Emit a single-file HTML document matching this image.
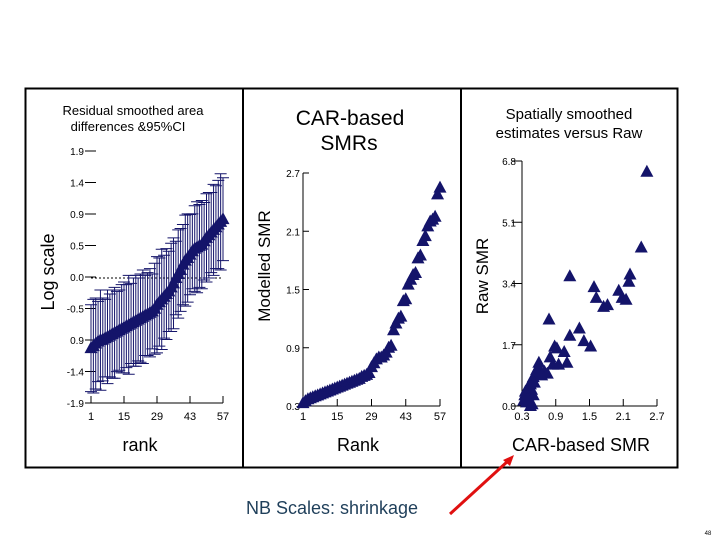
<!DOCTYPE html>
<html><head><meta charset="utf-8"><style>
html,body{margin:0;padding:0;background:#fff;width:720px;height:540px;overflow:hidden}
svg{display:block;font-family:"Liberation Sans",sans-serif}
</style></head><body>
<svg id="s" width="720" height="540" viewBox="0 0 720 540">
<rect x="25.5" y="88.5" width="652" height="379" fill="none" stroke="#000" stroke-width="2"/>
<line x1="243" y1="88" x2="243" y2="468" stroke="#000" stroke-width="2"/>
<line x1="461" y1="88" x2="461" y2="468" stroke="#000" stroke-width="2"/>
<g font-size="13" fill="#000" text-anchor="middle">
<text x="133" y="115">Residual smoothed area</text><text x="128" y="131">differences &amp;95%CI</text></g>
<g font-size="21" text-anchor="middle">
<text x="350" y="125">CAR-based</text><text x="349" y="150">SMRs</text></g>
<g font-size="15" text-anchor="middle">
<text x="569" y="119">Spatially smoothed</text><text x="569" y="138">estimates versus Raw</text></g>
<text transform="translate(54,272) rotate(-90)" font-size="18" text-anchor="middle">Log scale</text>
<text transform="translate(270,266) rotate(-90)" font-size="17" text-anchor="middle">Modelled SMR</text>
<text transform="translate(488,276) rotate(-90)" font-size="17" text-anchor="middle">Raw SMR</text>
<text x="140" y="451" font-size="18" text-anchor="middle">rank</text>
<text x="358" y="451" font-size="18" text-anchor="middle">Rank</text>
<text x="581" y="451" font-size="18" text-anchor="middle">CAR-based SMR</text>
<text x="332" y="514" font-size="18" fill="#1f3f5a" text-anchor="middle">NB Scales: shrinkage</text>
<line x1="450" y1="514" x2="508" y2="461" stroke="#e01010" stroke-width="3"/>
<polygon points="514,455 503,460 510,466" fill="#e01010"/>
<text x="708" y="535" font-size="6" text-anchor="middle">48</text>
<g id="g1"></g><g id="g2"></g><g id="g3"></g>
</svg>
<script>
// Panel 1 data
const p1Mid=[-1.05,-1.02,-0.98,-0.95,-0.93,-0.92,-0.9,-0.88,-0.86,-0.84,-0.82,-0.8,-0.78,-0.76,-0.74,-0.72,-0.7,-0.68,-0.66,-0.64,-0.62,-0.6,-0.58,-0.56,-0.54,-0.52,-0.5,-0.46,-0.4,-0.36,-0.32,-0.28,-0.24,-0.2,-0.14,-0.08,0.0,0.06,0.12,0.2,0.26,0.3,0.35,0.4,0.44,0.46,0.48,0.5,0.55,0.6,0.64,0.68,0.72,0.76,0.8,0.84,0.88];
const p1Half=[0.65,0.7,0.68,0.6,0.75,0.62,0.58,0.7,0.62,0.66,0.68,0.6,0.6,0.66,0.68,0.62,0.74,0.6,0.66,0.68,0.62,0.66,0.7,0.6,0.62,0.66,0.56,0.68,0.72,0.66,0.75,0.62,0.68,0.6,0.66,0.68,0.55,0.66,0.62,0.6,0.68,0.66,0.6,0.56,0.64,0.68,0.62,0.66,0.58,0.66,0.64,0.6,0.68,0.62,0.66,0.72,0.62];
const p1YTicks=["1.9","1.4","0.9","0.5","0.0","-0.5","0.9","-1.4","-1.9"];
const p1XTicks=[1,15,29,43,57];
// Panel 2 data
const p2Vals=[0.33,0.35,0.37,0.38,0.39,0.4,0.41,0.42,0.43,0.44,0.45,0.46,0.47,0.48,0.49,0.5,0.51,0.52,0.53,0.54,0.55,0.56,0.57,0.58,0.6,0.61,0.62,0.64,0.7,0.74,0.78,0.8,0.8,0.82,0.85,0.9,0.92,1.08,1.15,1.2,1.22,1.38,1.4,1.55,1.6,1.65,1.67,1.82,1.85,2.0,2.05,2.15,2.2,2.22,2.25,2.48,2.55];
const p2YTicks=[0.3,0.9,1.5,2.1,2.7];
const p2XTicks=[1,15,29,43,57];
// Panel 3 data
const p3Car=[2.52,2.42,1.15,2.22,2.2,1.58,1.62,2.02,2.08,2.15,1.75,1.82,0.78,1.32,1.15,1.4,1.52,0.88,0.92,1.05,1.1,0.8,0.85,0.95,0.6,0.62,0.7,0.75,0.55,0.5,0.58,0.45,0.4,0.42,0.35,0.38,0.33,0.47,0.5,0.45,0.48,0.36,0.4,0.52,0.65,0.56];
const p3Raw=[6.5,4.4,3.6,3.65,3.45,3.3,3.0,3.2,3.0,2.95,2.75,2.8,2.4,2.15,1.95,1.8,1.65,1.65,1.6,1.5,1.2,1.35,1.15,1.15,1.2,1.0,0.95,0.9,0.9,0.8,1.05,0.6,0.5,0.3,0.3,0.1,0.15,0.45,0.3,0.0,0.05,0.4,0.2,0.65,0.85,1.0];
const p3YTicks=[0.0,1.7,3.4,5.1,6.8];
const p3XTicks=[0.3,0.9,1.5,2.1,2.7];

const NS="http://www.w3.org/2000/svg";
function mk(parent,tag,attrs){const e=document.createElementNS(NS,tag);for(const k in attrs)e.setAttribute(k,attrs[k]);parent.appendChild(e);return e;}
function tri(g,x,y){return mk(g,'polygon',{points:`${x},${y-7} ${x-6.5},${y+5} ${x+6.5},${y+5}`,fill:'#14146a'});}
const navy='#14146a';

// Panel 1
(function(){
 const g=document.getElementById('g1');
 const x=r=>91+(r-1)*(223-91)/56;
 const y=v=>278-v*(278-151)/1.9;
 p1YTicks.forEach((t,i)=>{const yy=151+i*(403-151)/(p1YTicks.length-1);
  const l=mk(g,'line',{x1:85,y1:yy,x2:96,y2:yy,stroke:'#000'});
  
  
  const tx=mk(g,'text',{x:84,y:yy+4,'font-size':10,'text-anchor':'end'});tx.textContent=t;
  
  });
 const ax=mk(g,'line',{x1:91,y1:403,x2:223,y2:403,stroke:'#000'});
 
 
 p1XTicks.forEach(t=>{const l=mk(g,'line',{x1:x(t),y1:396,x2:x(t),y2:403,stroke:'#000'});
  
  
  const tx=mk(g,'text',{x:x(t),y:420,'font-size':11,'text-anchor':'middle'});tx.textContent=t;
  
  });
 const z=mk(g,'line',{x1:91,y1:y(0),x2:223,y2:y(0),stroke:'#000','stroke-dasharray':'2,2'});
 
 
 p1Mid.forEach((m,i)=>{const r=i+1,xx=x(r),lo=y(m-p1Half[i]),hi=y(m+p1Half[i]);
  const eb=mk(g,'path',{d:`M${xx},${lo}V${hi}M${xx-6},${lo}H${xx+6}M${xx-6},${hi}H${xx+6}`,stroke:navy,'stroke-width':1,fill:'none'});
  
  });
 p1Mid.forEach((m,i)=>{const t=tri(g,x(i+1),y(m));
  
  });
})();

// Panel 2
(function(){
 const g=document.getElementById('g2');
 const x=r=>303+(r-1)*(440-303)/56;
 const y=v=>406-(v-0.3)*(406-173)/2.4;
 const ya=mk(g,'line',{x1:303,y1:173,x2:303,y2:406,stroke:'#000'});
 
 
 const xa=mk(g,'line',{x1:303,y1:406,x2:440,y2:406,stroke:'#000'});
 
 
 p2YTicks.forEach(t=>{const l=mk(g,'line',{x1:303,y1:y(t),x2:309,y2:y(t),stroke:'#000'});
  
  
  const tx=mk(g,'text',{x:300,y:y(t)+4,'font-size':10,'text-anchor':'end'});tx.textContent=t.toFixed(1);
  
  });
 p2XTicks.forEach(t=>{const l=mk(g,'line',{x1:x(t),y1:399,x2:x(t),y2:406,stroke:'#000'});
  
  
  const tx=mk(g,'text',{x:x(t),y:420,'font-size':11,'text-anchor':'middle'});tx.textContent=t;
  
  });
 p2Vals.forEach((v,i)=>{const t=tri(g,x(i+1),y(v));
  
  });
})();

// Panel 3
(function(){
 const g=document.getElementById('g3');
 const x=v=>522+(v-0.3)*(657-522)/2.4;
 const y=v=>406-v*(406-161)/6.8;
 const ya=mk(g,'line',{x1:522,y1:161,x2:522,y2:406,stroke:'#000'});
 
 
 const xa=mk(g,'line',{x1:522,y1:406,x2:657,y2:406,stroke:'#000'});
 
 
 p3YTicks.forEach(t=>{const l=mk(g,'line',{x1:512,y1:y(t),x2:522,y2:y(t),stroke:'#000'});
  
  
  const tx=mk(g,'text',{x:516,y:y(t)+4,'font-size':10,'text-anchor':'end'});tx.textContent=t.toFixed(1);
  
  });
 p3XTicks.forEach(t=>{const l=mk(g,'line',{x1:x(t),y1:399,x2:x(t),y2:406,stroke:'#000'});
  
  
  const tx=mk(g,'text',{x:x(t),y:420,'font-size':11,'text-anchor':'middle'});tx.textContent=t.toFixed(1);
  
  });
 p3Car.forEach((c,i)=>{const t=tri(g,x(c),y(p3Raw[i]));
  
  });
})();
</script>
</body></html>
